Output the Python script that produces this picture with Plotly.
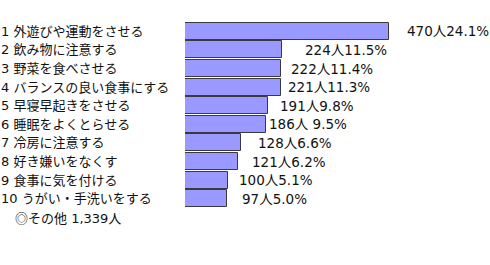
import plotly.graph_objects as go

# Ranked answers with respondent counts and shares
categories = [
    "1 外遊びや運動をさせる",
    "2 飲み物に注意する",
    "3 野菜を食べさせる",
    "4 バランスの良い食事にする",
    "5 早寝早起きをさせる",
    "6 睡眠をよくとらせる",
    "7 冷房に注意する",
    "8 好き嫌いをなくす",
    "9 食事に気を付ける",
    "10 うがい・手洗いをする",
]
counts = [470, 224, 222, 221, 191, 186, 128, 121, 100, 97]
value_labels = [
    "470人24.1%", "224人11.5%", "222人11.4%", "221人11.3%", "191人9.8%",
    "186人 9.5%", "128人6.6%", "121人6.2%", "100人5.1%", "97人5.0%",
]
other_mark = "◎"
other_note = "その他 1,339人"

# pixel gap between each bar end and its value label
label_gaps = [16, 21, 8, 5, 10, 1, 15, 12, 9, 13]

TEXT_FONT = "DejaVu Sans, Noto Sans CJK JP"
CJK_FONT = "Noto Sans CJK JP"

fig = go.Figure(
    go.Bar(
        x=counts,
        y=list(range(len(categories))),
        orientation="h",
        width=0.92,
        marker=dict(color="#9999FF", line=dict(color="#3a3a3a", width=1)),
        hoverinfo="skip",
    )
)

annotations = []
for i, (cat, cnt, lab, gap) in enumerate(zip(categories, counts, value_labels, label_gaps)):
    annotations.append(dict(
        x=0, xref="paper", xanchor="left", xshift=-186,
        y=i, yref="y", yanchor="middle",
        text=cat, showarrow=False,
        font=dict(family=TEXT_FONT, size=13, color="#111"),
    ))
    annotations.append(dict(
        x=cnt, xref="x", xanchor="left", xshift=gap,
        y=i, yref="y", yanchor="middle",
        text=lab, showarrow=False,
        font=dict(family=TEXT_FONT, size=13.5, color="#111"),
    ))
annotations.append(dict(
    x=0, xref="paper", xanchor="left", xshift=-172,
    y=0, yref="paper", yanchor="middle", yshift=-9,
    text=f'<span style="font-family:{CJK_FONT}">{other_mark}</span>{other_note}',
    showarrow=False,
    font=dict(family=TEXT_FONT, size=13, color="#111"),
))

fig.update_layout(
    width=490, height=265,
    margin=dict(l=185, r=5, t=21.7, b=57.3),
    paper_bgcolor="white", plot_bgcolor="white",
    showlegend=False,
    bargap=0,
    xaxis=dict(range=[0, 691], visible=False, fixedrange=True),
    yaxis=dict(range=[len(categories) - 0.5, -0.5], visible=False, fixedrange=True),
    annotations=annotations,
)

fig.write_html("out.html", config={"displayModeBar": False})
